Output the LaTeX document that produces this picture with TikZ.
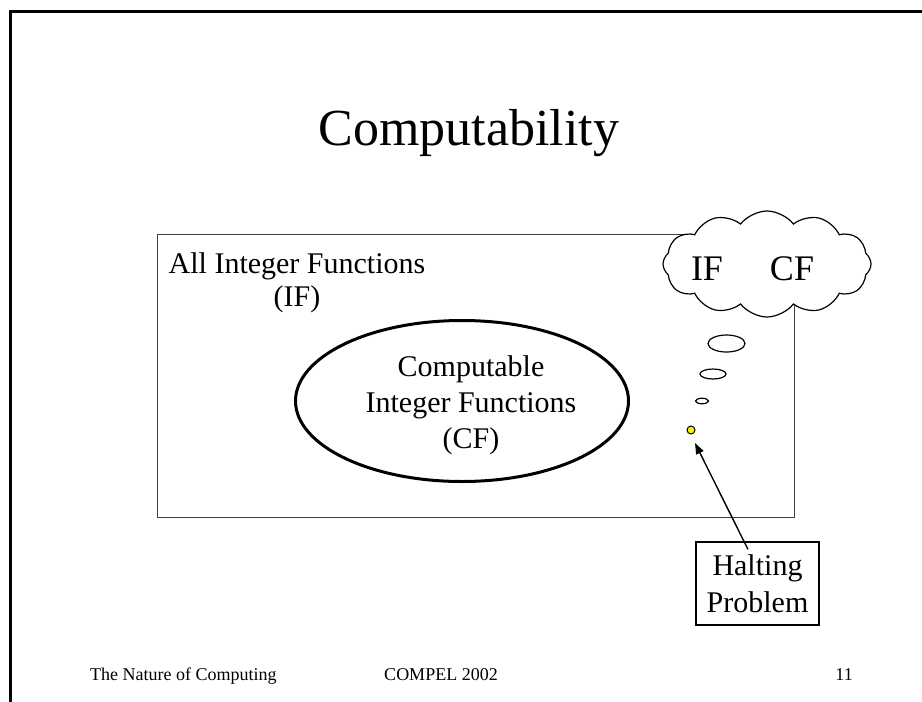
\documentclass[tikz,border=0pt]{standalone}
\usepackage{fontspec}
\setmainfont{Liberation Serif}
\usetikzlibrary{shapes.geometric,shapes.symbols,arrows.meta,calc}
\tikzset{
  bodytext/.style={font=\fontsize{30}{36}\selectfont, inner sep=0pt, align=center},
  foot/.style={font=\fontsize{18}{22}\selectfont, inner sep=0pt, anchor=base},
  puff/.style={draw=black, line width=1.2pt, ellipse, inner sep=0pt, fill=white},
}
\begin{document}
\begin{tikzpicture}[x=1pt,y=-1pt]
\useasboundingbox (0,0) rectangle (922,702);
\fill[white] (0,0) rectangle (922,702);
% slide frame
\draw[line width=3pt] (10,702) -- (10,11) -- (922,11);
% title
\node[font=\fontsize{52}{60}\selectfont, inner sep=0pt, anchor=base] (title) at (469,145) {Computability};
% big rectangle
\node[draw=black!75, line width=1.2pt, minimum width=637pt, minimum height=283pt, inner sep=0pt, anchor=north west] (IFbox) at (157,234) {};
\node[bodytext, anchor=base, font=\fontsize{30}{33}\selectfont] (iflabel) at (297,306) {All Integer Functions\\(IF)};
% ellipse
\node[draw, ellipse, line width=3pt, minimum width=333pt, minimum height=161pt, inner sep=0pt] (CF) at (462,401) {};
\node[bodytext, anchor=base] (cflabel) at (471,448) {Computable\\Integer Functions\\(CF)};
% cloud
\node[cloud, cloud puffs=12, cloud puff arc=105, aspect=2, draw, fill=white, line width=1.2pt, minimum width=208pt, minimum height=106pt, inner sep=0pt] (cloud) at (767,264) {};
\node[font=\fontsize{36}{40}\selectfont, inner sep=0pt, anchor=base] (cIF) at (707,280) {IF};
\node[font=\fontsize{36}{40}\selectfont, inner sep=0pt, anchor=base] (cCF) at (792,280) {CF};
% thought bubbles
\node[puff, minimum width=37pt, minimum height=17pt] (b1) at (726.5,343.5) {};
\node[puff, minimum width=26pt, minimum height=10pt] (b2) at (713,374) {};
\node[puff, minimum width=13pt, minimum height=5.5pt] (b3) at (702,401) {};
\node[draw=black, line width=1pt, fill=yellow, circle, minimum size=8pt, inner sep=0pt] (hp0) at (691,430) {};
% halting problem
\node[draw, line width=1.2pt, fill=white, minimum width=123pt, minimum height=83pt, inner sep=0pt, font=\fontsize{30}{37}\selectfont, align=center] (hp) at (757.5,583.5) {Halting\\Problem};
\coordinate (tail) at ($(hp.north)+(-9.5,8)$);
\draw[line width=1.4pt, -{Triangle[length=11pt,width=8pt]}] (tail) -- ($(hp0)+(4,13)$);
% footer
\node[foot, anchor=base west] (f1) at (90,680) {The Nature of Computing};
\node[foot] (f2) at (441,680) {COMPEL 2002};
\node[foot, anchor=base east] (f3) at (853,680) {11};
\end{tikzpicture}
\end{document}
